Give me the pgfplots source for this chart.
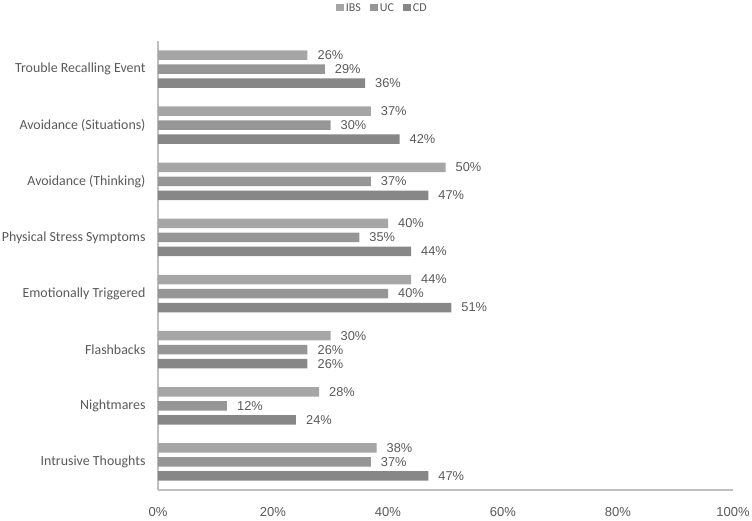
\documentclass[border=0pt]{standalone}
\usepackage{pgfplots}
\pgfplotsset{compat=1.18}
\usepackage{fontspec}
\setmainfont{Liberation Sans}
\newfontfamily\calib{Carlito}

\definecolor{ibs}{HTML}{A6A6A6}
\definecolor{uc}{HTML}{969696}
\definecolor{cd}{HTML}{878787}
\definecolor{txt}{HTML}{595959}
\definecolor{axl}{HTML}{BFBFBF}

\begin{document}
\begin{tikzpicture}
\begin{axis}[
    scale only axis,
    width=575bp, height=449bp,
    xbar, bar width=9.5bp,
    xmin=0, xmax=100,
    ymin=-0.5, ymax=7.5,
    y dir=reverse,
    ytick={0,...,7},
    yticklabels={Trouble Recalling Event,Avoidance (Situations),Avoidance (Thinking),Physical Stress Symptoms,Emotionally Triggered,Flashbacks,Nightmares,Intrusive Thoughts},
    yticklabel style={font=\calib\fontsize{13.9bp}{16bp}\selectfont, text=txt, xshift=-9bp},
    xtick={0,20,...,100},
    xticklabel={\pgfmathprintnumber{\tick}\%},
    xticklabel style={font=\fontsize{13bp}{15bp}\selectfont, text=txt, yshift=-14bp},
    /pgf/number format/assume math mode=true,
    major tick length=0pt,
    axis x line=none,
    axis y line*=left,
    axis line style={axl, line width=1.5bp, -},
    hide x axis=false,
    nodes near coords={\pgfmathprintnumber{\pgfplotspointmeta}\%},
    nodes near coords style={font=\fontsize{12.8bp}{15bp}\selectfont, text=txt, anchor=west, inner sep=0pt, xshift=10bp},
    point meta=x,
    legend style={at={(0.39,1.0735)}, anchor=center, draw=none, legend columns=-1,
        font=\calib\fontsize{12bp}{14bp}\selectfont, text=txt, inner sep=0pt,
        /tikz/every odd column/.append style={column sep=0bp},
        /tikz/every even column/.append style={column sep=7bp}},
    legend image code/.code={\fill[#1] (0bp,-3.5bp) rectangle (8bp,3.5bp);},
]
\addplot[draw=none, fill=ibs, bar shift=14bp] coordinates {(26,0) (37,1) (50,2) (40,3) (44,4) (30,5) (28,6) (38,7)};
\addplot[draw=none, fill=uc, bar shift=0bp] coordinates {(29,0) (30,1) (37,2) (35,3) (40,4) (26,5) (12,6) (37,7)};
\addplot[draw=none, fill=cd, bar shift=-14bp] coordinates {(36,0) (42,1) (47,2) (44,3) (51,4) (26,5) (24,6) (47,7)};
\legend{IBS,UC,CD}
\end{axis}
\pgfresetboundingbox
\path ([shift={(-158bp,-31bp)}]current axis.south west) rectangle ([shift={(594bp,490bp)}]current axis.south west);
\end{tikzpicture}
\end{document}
